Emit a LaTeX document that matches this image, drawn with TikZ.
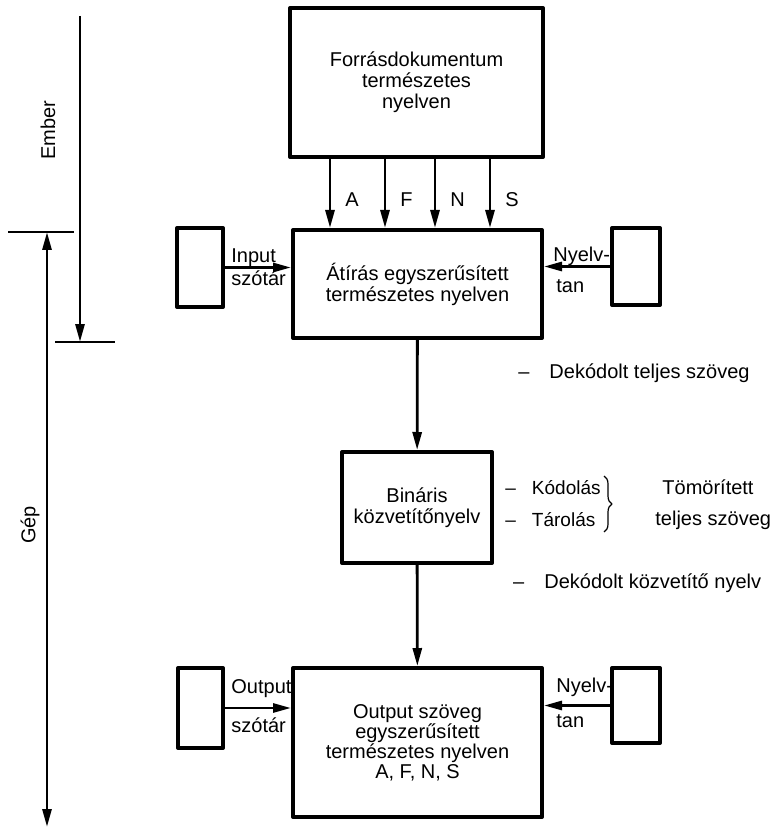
\documentclass[tikz,border=0pt]{standalone}
\usepackage{fontspec}
\setmainfont{Liberation Sans}
\usetikzlibrary{arrows.meta,decorations.pathreplacing}

\begin{document}
\begin{tikzpicture}[x=0.5pt,y=-0.5pt,>={Triangle[length=9pt,width=4.5pt]},
    line join=round,font=\fontsize{10}{10.5}\selectfont,
    box/.style={draw,line width=2pt,align=center,inner sep=0pt},
    sbox/.style={draw,line width=2pt,minimum width=23pt,minimum height=39pt},
    arr/.style={->,line width=1.4pt},
    lbl/.style={anchor=base west,inner sep=0pt},
    bar/.style={line width=1.1pt}]
\useasboundingbox (0,0) rectangle (773,828);
% boxes
\node[box,minimum width=126.5pt,minimum height=74.5pt](forras) at (416.5,82.5){Forrásdokumentum\\természetes\\nyelven};
\node[box,minimum width=124.5pt,minimum height=54pt](atiras) at (417.5,284){Átírás egyszerűsített\\természetes nyelven};
\node[box,minimum width=75pt,minimum height=55.5pt](binaris) at (417,507.5){Bináris\\közvetítőnyelv};
\node[box,minimum width=124.5pt,minimum height=74.5pt,font=\fontsize{10}{10}\selectfont](output) at (417.5,742.5){Output szöveg\\egyszerűsített\\természetes nyelven\\A, F, N, S};
\node[sbox,minimum height=39.5pt](insz) at (200,267.5){};
\node[sbox,minimum width=24pt,minimum height=38.5pt](nyt1) at (636,266.5){};
\node[sbox,minimum width=22.5pt,minimum height=40pt](outsz) at (200.5,708){};
\node[sbox,minimum width=24pt,minimum height=37.5pt](nyt2) at (636,705.5){};
% A F N S
\foreach \dx/\lab in {-43.25/A,-15.75/F,9.25/N,36.75/S}
    \draw[arr]([xshift=\dx pt]forras.south)--([xshift=\dx pt]forras.south |- atiras.north)
        node[pos=.59,right=7pt,inner sep=0pt]{\lab};
% side inputs
\draw[arr](insz)--(atiras.west |- insz)
    node[lbl,pos=0,xshift=2.5pt,yshift=2.5pt]{Input}
    node[lbl,pos=0,xshift=2.5pt,yshift=-9pt]{szótár};
\draw[arr](nyt1)--(atiras.east |- nyt1)
    node[lbl,pos=1,xshift=4pt,yshift=2.5pt]{Nyelv-}
    node[lbl,pos=1,xshift=5.5pt,yshift=-13pt]{tan};
\draw[arr](outsz)--(output.west |- outsz)
    node[lbl,pos=0,xshift=2.5pt,yshift=7.5pt]{Output}
    node[lbl,pos=0,xshift=2.5pt,yshift=-12pt]{szótár};
\draw[arr](nyt2)--(output.east |- nyt2)
    node[lbl,pos=1,xshift=5.5pt,yshift=6.5pt]{Nyelv-}
    node[lbl,pos=1,xshift=5.5pt,yshift=-11pt]{tan};
% main flow
\draw[arr](atiras)--(binaris)
    node[pos=.3,anchor=west,xshift=46.5pt]{–\hspace{10pt}Dekódolt teljes szöveg};
\draw[arr](binaris)--(output)
    node[pos=.18,anchor=west,xshift=44pt]{–\hspace{10pt}Dekódolt közvetítő nyelv};
\node[anchor=west,inner sep=0pt,font=\fontsize{9.5}{10}\selectfont](kod) at (505,488){–\hspace{8pt}Kódolás};
\node[anchor=west,inner sep=0pt,font=\fontsize{9.5}{10}\selectfont](tar) at (505,520){–\hspace{8pt}Tárolás};
\draw[decorate,decoration={brace,amplitude=4pt},line width=.6pt](604,476)--(604,532);
\node[anchor=west,inner sep=0pt](tomor) at (662,487){Tömörített};
\node[anchor=west,inner sep=0pt](teljes) at (655,520){teljes szöveg};
% Ember / Gep
\coordinate(emtop) at (80,16);
\coordinate(embot) at (80,342);
\draw[bar](55,342)--(115,342);
\draw[arr](emtop)--(embot);
\node[rotate=90](ember) at (48,130){Ember};
\coordinate(geptop) at (47,232);
\coordinate(gepbot) at (47,827);
\draw[bar](8,232)--(74,232);
\draw[arr,<->](geptop)--(gepbot);
\node[rotate=90](gep) at (30,525){Gép};
\end{tikzpicture}
\end{document}
